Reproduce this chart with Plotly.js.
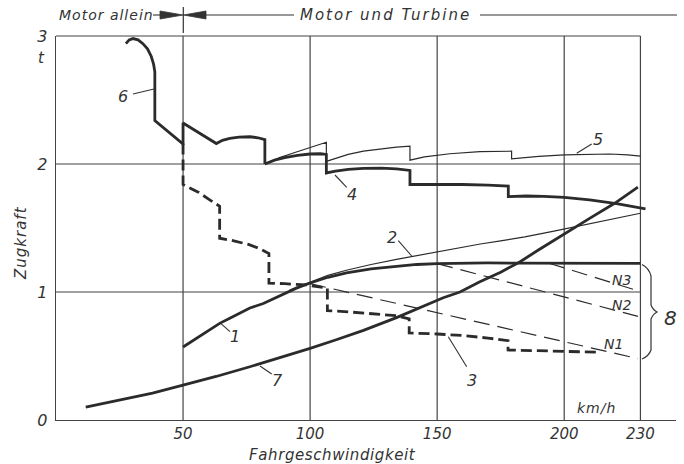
<!DOCTYPE html>
<html><head><meta charset="utf-8">
<script src="https://cdn.plot.ly/plotly-3.0.1.min.js"></script>
<style>html,body{margin:0;padding:0;background:#fff;}#chart{width:684px;height:464px;}</style>
</head><body><div id="chart"></div>
<script>
// ---- data (km/h , t) ----
const xTicks = [50, 100, 150, 200, 230];
const yTicks = [0, 1, 2, 3];

const curve6X = [27.5, 28.8, 30.3, 32.3, 34.2, 36.0, 37.5, 38.4, 38.9, 38.9, 49.8, 50.0, 50.0, 63.1, 65.5, 68.4, 72.0, 76.3, 79.5, 81.5, 82.2, 82.2];
const curve6Y = [2.94, 2.97, 2.98, 2.97, 2.94, 2.90, 2.84, 2.78, 2.72, 2.34, 2.16, 2.16, 2.32, 2.16, 2.185, 2.20, 2.21, 2.213, 2.205, 2.19, 2.19, 2.0];

const curve4X = [82.2, 86, 90, 95, 100, 104, 106.4, 106.4, 110, 115, 121, 128, 134, 139.3, 139.3, 150, 160, 170, 178, 178, 185, 192, 200, 210, 220.6, 232];
const curve4Y = [2.0, 2.03, 2.05, 2.068, 2.078, 2.08, 2.075, 1.93, 1.945, 1.958, 1.966, 1.968, 1.962, 1.95, 1.84, 1.842, 1.84, 1.835, 1.828, 1.745, 1.75, 1.747, 1.74, 1.72, 1.69, 1.65];

const curve5X = [82.2, 88, 94, 100, 106.4, 106.4, 110, 115, 121, 128, 134, 139.3, 139.3, 145, 155, 166.8, 173, 179.3, 179.3, 190, 200, 210, 218, 225, 230];
const curve5Y = [2.0, 2.05, 2.09, 2.13, 2.17, 2.02, 2.045, 2.075, 2.10, 2.12, 2.132, 2.14, 2.03, 2.055, 2.08, 2.096, 2.1, 2.10, 2.04, 2.06, 2.072, 2.078, 2.078, 2.072, 2.062];

const curve3X = [50, 50, 52, 56, 60.5, 64.4, 64.4, 70, 76, 80, 83.8, 83.8, 90, 98.6, 106.8, 106.8, 115, 125, 134, 139, 139, 150, 160, 170, 177.9, 177.9, 190, 200, 212.7];
const curve3Y = [2.16, 1.84, 1.82, 1.78, 1.72, 1.67, 1.42, 1.40, 1.37, 1.34, 1.30, 1.07, 1.065, 1.055, 1.03, 0.855, 0.845, 0.83, 0.815, 0.79, 0.68, 0.672, 0.66, 0.64, 0.62, 0.547, 0.54, 0.535, 0.53];

const curve1X = [50, 55, 60, 64.4, 68.4, 76.3, 81.6, 88, 94.6, 100, 107, 114.3, 124, 134, 142, 150, 160, 170, 180, 195, 210, 230];
const curve1Y = [0.57, 0.635, 0.70, 0.755, 0.795, 0.875, 0.91, 0.97, 1.03, 1.07, 1.115, 1.15, 1.18, 1.20, 1.215, 1.222, 1.226, 1.227, 1.226, 1.225, 1.224, 1.224];

const curve2X = [92, 100, 107, 114.3, 124, 134, 142, 150, 158, 167, 175, 184.5, 196, 210, 220, 230];
const curve2Y = [1.015, 1.075, 1.13, 1.17, 1.215, 1.255, 1.285, 1.31, 1.34, 1.375, 1.40, 1.43, 1.475, 1.535, 1.576, 1.615];

const curve7X = [11.7, 25, 38, 50, 63, 76.3, 88, 100, 110, 121, 134, 144.5, 152.4, 159, 166.8, 175, 182.5, 190, 200, 210, 220, 229];
const curve7Y = [0.10, 0.155, 0.21, 0.273, 0.34, 0.416, 0.485, 0.56, 0.625, 0.70, 0.80, 0.885, 0.955, 1.0, 1.08, 1.155, 1.235, 1.33, 1.455, 1.575, 1.695, 1.82];

const n1X = [100, 229], n1Y = [1.065, 0.48];
const n2X = [150, 229], n2Y = [1.222, 0.81];
const n3X = [194, 229], n3Y = [1.225, 1.01];

// ---- helpers for decoration placement (pixel -> paper) ----
const L = 56, R = 8, T = 36, B = 44, W = 684, H = 464;
const PW = W - L - R, PH = H - T - B;
const PX = px => (px - L) / PW;
const PY = py => (H - B - py) / PH;

const ink = '#2b2b2b';
const FONT = {family: 'DejaVu Sans', size: 15, color: '#333', style: 'italic'};
const thick = 2.8, thin = 1.2;

function tr(x, y, width, dash) {
  return {x: x, y: y, type: 'scatter', mode: 'lines', hoverinfo: 'skip',
    line: {color: ink, width: width, dash: dash || 'solid'}};
}
const data = [
  tr(curve7X, curve7Y, thick),
  tr(curve1X, curve1Y, thick),
  tr(curve2X, curve2Y, thin),
  tr(n1X, n1Y, thin, '16px,8px'),
  tr(n2X, n2Y, thin, '16px,8px'),
  tr(n3X, n3Y, thin, '16px,8px'),
  tr(curve3X, curve3Y, thick, '11px,5px'),
  tr(curve5X, curve5Y, thin),
  tr(curve4X, curve4Y, thick),
  tr(curve6X, curve6Y, thick)
];

const shapes = [];
const gridLine = {color: '#444', width: 1.2};
xTicks.forEach(v => shapes.push({type: 'line', xref: 'x', yref: 'paper', x0: v, x1: v, y0: 0, y1: 1, line: gridLine, layer: 'below'}));
[1, 2].forEach(v => shapes.push({type: 'line', xref: 'x', yref: 'y', x0: 0, x1: 230, y0: v, y1: v, line: gridLine, layer: 'below'}));
shapes.push({type: 'line', xref: 'x', yref: 'paper', x0: 0, x1: 230, y0: 1, y1: 1, line: gridLine, layer: 'below'});

function seg(x0, y0, x1, y1, w) {
  shapes.push({type: 'line', xref: 'paper', yref: 'paper', x0: PX(x0), y0: PY(y0), x1: PX(x1), y1: PY(y1), line: {color: '#333', width: w || 1.1}});
}
function poly(pts) {
  const d = pts.map((p, i) => (i ? 'L' : 'M') + PX(p[0]) + ',' + PY(p[1])).join(' ') + ' Z';
  shapes.push({type: 'path', xref: 'paper', yref: 'paper', path: d, fillcolor: '#333', line: {color: '#333', width: 0.8}});
}
// header arrows
seg(153, 15, 165, 15);
poly([[160, 11], [183, 15], [160, 19]]);
seg(183.3, 7, 183.3, 33, 1.2);
poly([[206, 11], [183.5, 15], [206, 19]]);
seg(206, 15, 294, 15);
seg(480, 15, 677, 15);

// leader lines
seg(133, 94, 154, 89);          // 6
seg(346.7, 187.3, 335, 175);    // 4
seg(591.7, 144, 576.7, 153.3);  // 5
seg(398.3, 240.7, 411.7, 256);  // 2
seg(230, 331.7, 220.7, 323.3);  // 1
seg(260, 366, 271.7, 374);      // 7
seg(448.3, 336.7, 466.7, 366.7);// 3

// brace "8"
const bp = [[642, 264.5], [649, 268], [651, 276], [651, 305], [653, 310], [657, 312], [653, 314], [651, 319], [651, 350], [649, 356], [642, 359]];
shapes.push({type: 'path', xref: 'paper', yref: 'paper',
  path: 'M' + PX(bp[0][0]) + ',' + PY(bp[0][1]) + ' Q' + PX(bp[1][0]) + ',' + PY(bp[1][1]) + ' ' + PX(bp[2][0]) + ',' + PY(bp[2][1]) +
        ' L' + PX(bp[3][0]) + ',' + PY(bp[3][1]) + ' Q' + PX(bp[4][0]) + ',' + PY(bp[4][1]) + ' ' + PX(bp[5][0]) + ',' + PY(bp[5][1]) +
        ' Q' + PX(bp[6][0]) + ',' + PY(bp[6][1]) + ' ' + PX(bp[7][0]) + ',' + PY(bp[7][1]) +
        ' L' + PX(bp[8][0]) + ',' + PY(bp[8][1]) + ' Q' + PX(bp[9][0]) + ',' + PY(bp[9][1]) + ' ' + PX(bp[10][0]) + ',' + PY(bp[10][1]),
  line: {color: '#333', width: 1.2}});

function txt(text, px, py, size, anchor, spacing) {
  const t = spacing ? '<span style="letter-spacing:' + spacing + 'px">' + text + '</span>' : text;
  return {text: t, xref: 'paper', yref: 'paper', x: PX(px), y: PY(py), showarrow: false,
    xanchor: anchor || 'center', yanchor: 'middle',
    font: Object.assign({}, FONT, {size: size || 15})};
}
const annotations = [
  txt('Motor allein', 57, 15, 14, 'left', 1),
  txt('Motor und Turbine', 298, 15, 15, 'left', 2),
  txt('t', 41, 58, 15),
  txt('Zugkraft', 21, 243, 15, 'center', 1),
  txt('Fahrgeschwindigkeit', 332, 455, 15, 'center', 0.6),
  txt('km/h', 596, 408, 14, 'center', 1),
  txt('6', 123, 97, 16),
  txt('4', 352, 194, 16),
  txt('5', 598, 139, 16),
  txt('2', 392, 237, 16),
  txt('1', 235, 336, 16),
  txt('7', 277, 380, 16),
  txt('3', 472, 380, 16),
  txt('N3', 621, 280, 14),
  txt('N2', 621, 305, 14),
  txt('N1', 613, 344, 14),
  txt('8', 670, 318, 20)
];
annotations[3].textangle = -90;

const layout = {
  width: W, height: H,
  margin: {l: L, r: R, t: T, b: B, pad: 0},
  paper_bgcolor: '#fff', plot_bgcolor: '#fff',
  showlegend: false,
  font: FONT,
  xaxis: {range: [0, 244], fixedrange: true, showgrid: false, zeroline: false,
    showline: true, linecolor: '#444', linewidth: 1.3,
    tickmode: 'array', tickvals: xTicks, ticktext: xTicks.map(String), ticks: '',
    ticklabelstandoff: 0, tickfont: Object.assign({}, FONT, {size: 15})},
  yaxis: {range: [0, 3], fixedrange: true, showgrid: false, zeroline: false,
    showline: true, linecolor: '#444', linewidth: 1.3,
    tickmode: 'array', tickvals: yTicks, ticktext: yTicks.map(String), ticks: '',
    ticklabelstandoff: 4, tickfont: Object.assign({}, FONT, {size: 16})},
  shapes: shapes,
  annotations: annotations
};
Plotly.newPlot('chart', data, layout, {displayModeBar: false, staticPlot: true});
</script></body></html>
